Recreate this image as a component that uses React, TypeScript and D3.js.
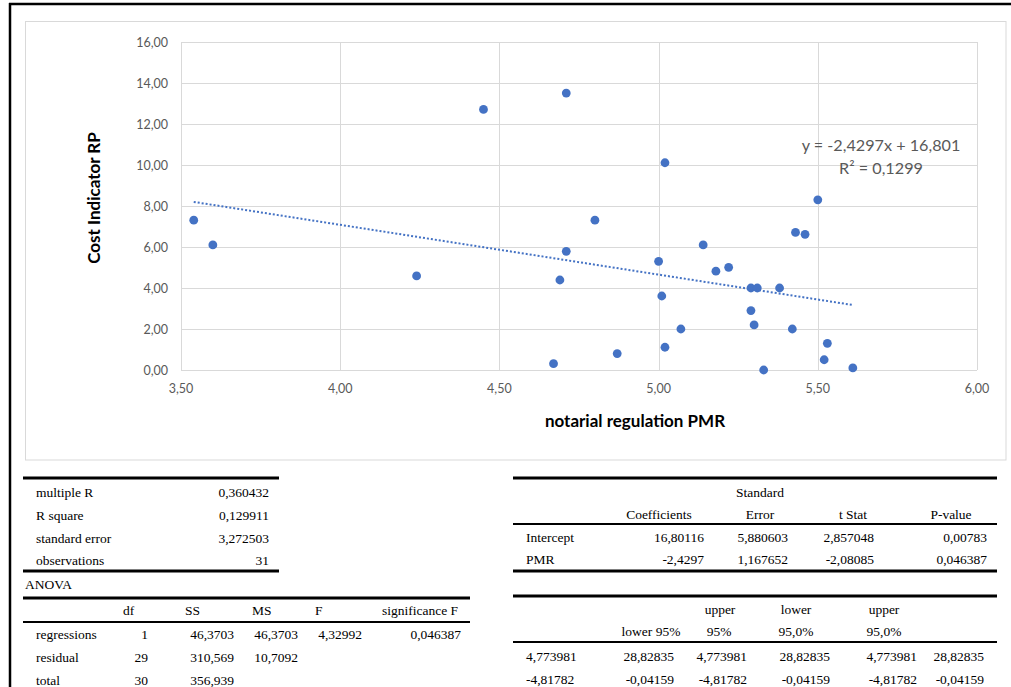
import React from 'react';
import * as d3 from 'd3';

// ---- chart data ----
const pmr = [3.54, 3.60, 4.24, 4.45, 4.71, 5.02, 5.50, 4.80, 5.43, 5.46, 5.14, 4.71, 5.00, 5.22, 5.18, 4.69, 5.29, 5.31, 5.38, 5.01, 5.29, 5.30, 5.07, 5.42, 5.53, 5.02, 4.87, 4.67, 5.52, 5.33, 5.61];
const cost = [7.31, 6.10, 4.59, 12.71, 13.51, 10.11, 8.30, 7.31, 6.71, 6.62, 6.10, 5.79, 5.30, 5.01, 4.82, 4.39, 4.00, 4.00, 4.00, 3.61, 2.90, 2.20, 2.00, 2.00, 1.30, 1.11, 0.80, 0.31, 0.50, 0.00, 0.10];
const xTicks = [3.5, 4.0, 4.5, 5.0, 5.5, 6.0];
const yTicks = [0, 2, 4, 6, 8, 10, 12, 14, 16];
const slope = -2.4297;
const intercept = 16.801;
const equationLabel = 'y = -2,4297x + 16,801';
const r2Label = 'R² = 0,1299';
const xTitle = 'notarial regulation PMR';
const yTitle = 'Cost Indicator RP';

// ---- table data ----
const summaryLabels = ['multiple R', 'R square', 'standard error', 'observations'];
const summaryValues = ['0,360432', '0,129911', '3,272503', '31'];
const anovaTitle = 'ANOVA';
const anovaHeaders = ['df', 'SS', 'MS', 'F', 'significance F'];
const anovaRows = ['regressions', 'residual', 'total'];
const anovaValues = [
  ['1', '46,3703', '46,3703', '4,32992', '0,046387'],
  ['29', '310,569', '10,7092'],
  ['30', '356,939'],
];
const coefTopHeader = 'Standard';
const coefHeaders = ['Coefficients', 'Error', 't Stat', 'P-value'];
const coefRows = ['Intercept', 'PMR'];
const coefValues = [
  ['16,80116', '5,880603', '2,857048', '0,00783'],
  ['-2,4297', '1,167652', '-2,08085', '0,046387'],
];
const ciHeaders1 = ['upper', 'lower', 'upper'];
const ciHeaders2 = ['lower 95%', '95%', '95,0%', '95,0%'];
const ciValues = [
  ['4,773981', '28,82835', '4,773981', '28,82835', '4,773981', '28,82835'],
  ['-4,81782', '-0,04159', '-4,81782', '-0,04159', '-4,81782', '-0,04159'],
];

const locale = d3.formatLocale({ decimal: ',', thousands: '.', grouping: [3], currency: ['', ''] });
const fmt = locale.format('.2f');

const chartFont = 'Lato, "Liberation Sans", sans-serif';
const tableFont = '"Liberation Serif", "Times New Roman", serif';
const blue = '#4472C4';

export default function App() {
  const x = d3.scaleLinear().domain([3.5, 6]).range([181, 977]);
  const y = d3.scaleLinear().domain([0, 16]).range([370, 42]);
  const xMin = d3.min(pmr) as number;
  const xMax = d3.max(pmr) as number;
  const trend = d3.line<number>().x((d) => x(d)).y((d) => y(slope * d + intercept));

  const T = (props: any) => (
    <text fontFamily={tableFont} fontSize={13.5} fill="#000" dominantBaseline="central" {...props} />
  );

  // left table geometry
  const sumRowY = [492, 515, 538, 560];
  const anovaHeaderX = [123, 185, 252, 315, 382];
  const anovaValueX = [148, 234, 298, 362, 461];
  const anovaRowY = [634, 657, 680];
  // right table geometry
  const coefHeaderX = [659, 760, 853, 951];
  const coefValueX = [704, 788, 874, 987];
  const coefRowY = [537, 559];
  const ciH1X = [720, 796, 884];
  const ciH2X = [651, 719, 796, 884];
  const ciValueX = [526, 674, 747, 830, 917, 984];
  const ciRowY = [656, 679];

  return (
    <svg width={1011} height={687} style={{ position: 'absolute', left: 0, top: 0, background: '#fff' }}>
      <rect x={0} y={0} width={1011} height={687} fill="#fff" />
      {/* outer black frame */}
      <line x1={9} x2={1011} y1={4} y2={4} stroke="#000" strokeWidth={2.5} />
      <line x1={10} x2={10} y1={3} y2={687} stroke="#000" strokeWidth={2.5} />
      {/* chart area */}
      <rect x={25.5} y={21.5} width={980.5} height={438.5} fill="#fff" stroke="#d9d9d9" strokeWidth={1} />
      {/* gridlines */}
      {yTicks.map((t) => (
        <line key={'gy' + t} x1={x(3.5)} x2={x(6)} y1={Math.round(y(t)) + 0.5} y2={Math.round(y(t)) + 0.5} stroke="#d9d9d9" strokeWidth={1} />
      ))}
      {xTicks.map((t) => (
        <line key={'gx' + t} x1={Math.round(x(t)) + 0.5} x2={Math.round(x(t)) + 0.5} y1={y(16)} y2={y(0)} stroke="#d9d9d9" strokeWidth={1} />
      ))}
      {/* tick labels */}
      {yTicks.map((t) => (
        <text key={'ly' + t} x={168} y={y(t)} textAnchor="end" dominantBaseline="central" fontFamily={chartFont} fontSize={12.5} fill="#595959">
          {fmt(t)}
        </text>
      ))}
      {xTicks.map((t) => (
        <text key={'lx' + t} x={x(t)} y={388} textAnchor="middle" dominantBaseline="central" fontFamily={chartFont} fontSize={12.5} fill="#595959">
          {fmt(t)}
        </text>
      ))}
      {/* axis titles */}
      <text x={635} y={420} textAnchor="middle" dominantBaseline="central" fontFamily={chartFont} fontWeight="bold" fontSize={17} fill="#000">
        {xTitle}
      </text>
      <text transform={`translate(93,198) rotate(-90)`} textAnchor="middle" dominantBaseline="central" fontFamily={chartFont} fontWeight="bold" fontSize={17} fill="#000">
        {yTitle}
      </text>
      {/* points */}
      {pmr.map((v, i) => (
        <circle key={'p' + i} cx={x(v)} cy={y(cost[i])} r={4.4} fill={blue} />
      ))}
      {/* trendline */}
      <path d={trend([xMin, xMax]) || ''} fill="none" stroke={blue} strokeWidth={2} strokeDasharray="2 2" />
      {/* equation */}
      <text x={881} y={144} textAnchor="middle" dominantBaseline="central" fontFamily={chartFont} fontSize={16.2} fill="#595959">
        {equationLabel}
      </text>
      <text x={881} y={167} textAnchor="middle" dominantBaseline="central" fontFamily={chartFont} fontSize={16.2} fill="#595959">
        {r2Label}
      </text>

      {/* ---- left summary table ---- */}
      <line x1={23} x2={279} y1={478} y2={478} stroke="#000" strokeWidth={3} />
      {summaryLabels.map((l, i) => (
        <T key={'sl' + i} x={36} y={sumRowY[i]}>{l}</T>
      ))}
      {summaryValues.map((v, i) => (
        <T key={'sv' + i} x={269} y={sumRowY[i]} textAnchor="end">{v}</T>
      ))}
      <line x1={23} x2={279} y1={571} y2={571} stroke="#000" strokeWidth={3} />
      <T x={25} y={584}>{anovaTitle}</T>
      <line x1={23} x2={470} y1={598} y2={598} stroke="#000" strokeWidth={3} />
      {anovaHeaders.map((h, i) => (
        <T key={'ah' + i} x={anovaHeaderX[i]} y={610}>{h}</T>
      ))}
      <line x1={23} x2={470} y1={622} y2={622} stroke="#000" strokeWidth={2} />
      {anovaRows.map((r, i) => (
        <T key={'ar' + i} x={36} y={anovaRowY[i]}>{r}</T>
      ))}
      {anovaValues.map((row, i) =>
        row.map((v, j) => (
          <T key={'av' + i + '-' + j} x={anovaValueX[j]} y={anovaRowY[i]} textAnchor="end">{v}</T>
        ))
      )}

      {/* ---- right coefficient table ---- */}
      <line x1={513} x2={997} y1={478} y2={478} stroke="#000" strokeWidth={3} />
      <T x={760} y={492} textAnchor="middle">{coefTopHeader}</T>
      {coefHeaders.map((h, i) => (
        <T key={'ch' + i} x={coefHeaderX[i]} y={514} textAnchor="middle">{h}</T>
      ))}
      <line x1={513} x2={997} y1={524} y2={524} stroke="#000" strokeWidth={2} />
      {coefRows.map((r, i) => (
        <T key={'cr' + i} x={526} y={coefRowY[i]}>{r}</T>
      ))}
      {coefValues.map((row, i) =>
        row.map((v, j) => (
          <T key={'cv' + i + '-' + j} x={coefValueX[j]} y={coefRowY[i]} textAnchor="end">{v}</T>
        ))
      )}
      <line x1={513} x2={997} y1={571} y2={571} stroke="#000" strokeWidth={3} />

      {/* ---- confidence interval table ---- */}
      <line x1={513} x2={997} y1={596} y2={596} stroke="#000" strokeWidth={3} />
      {ciHeaders1.map((h, i) => (
        <T key={'c1' + i} x={ciH1X[i]} y={609} textAnchor="middle">{h}</T>
      ))}
      {ciHeaders2.map((h, i) => (
        <T key={'c2' + i} x={ciH2X[i]} y={631} textAnchor="middle">{h}</T>
      ))}
      <line x1={513} x2={997} y1={642} y2={642} stroke="#000" strokeWidth={2} />
      {ciValues.map((row, i) =>
        row.map((v, j) => (
          <T key={'ci' + i + '-' + j} x={ciValueX[j]} y={ciRowY[i]} textAnchor={j === 0 ? 'start' : 'end'}>{v}</T>
        ))
      )}
    </svg>
  );
}
